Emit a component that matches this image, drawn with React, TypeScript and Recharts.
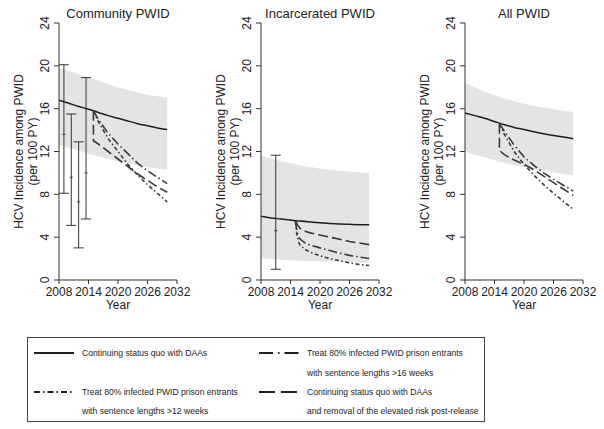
import React from "react";
import { ComposedChart, Line, Area, Scatter, ErrorBar, XAxis, YAxis } from "recharts";

const FONT = "'Liberation Sans', Arial, Helvetica, sans-serif";

const years = [2008, 2010, 2012, 2014, 2016, 2018, 2020, 2022, 2024, 2026, 2028, 2030];
const xTicks = [2008, 2014, 2020, 2026, 2032];
const yTicks = [0, 4, 8, 12, 16, 20, 24];
const panelTitles = ["Community PWID", "Incarcerated PWID", "All PWID"];

// status quo with DAAs (solid) and its uncertainty band
const communityQuo = [16.8, 16.5, 16.2, 15.95, 15.65, 15.35, 15.1, 14.85, 14.6, 14.4, 14.2, 14.05];
const communityHi = [19.8, 19.5, 19.2, 18.9, 18.6, 18.3, 18.0, 17.75, 17.5, 17.3, 17.15, 17.0];
const communityLo = [12.6, 12.35, 12.1, 11.8, 11.55, 11.3, 11.1, 10.9, 10.7, 10.55, 10.4, 10.3];

const prisonQuo = [5.95, 5.8, 5.7, 5.6, 5.5, 5.42, 5.35, 5.28, 5.23, 5.2, 5.17, 5.15];
const prisonHi = [11.6, 11.35, 11.1, 10.9, 10.7, 10.55, 10.4, 10.3, 10.2, 10.1, 10.05, 10.0];
const prisonLo = [2.0, 1.95, 1.9, 1.85, 1.8, 1.75, 1.72, 1.7, 1.68, 1.65, 1.62, 1.6];

const allQuo = [15.6, 15.35, 15.1, 14.8, 14.5, 14.25, 14.05, 13.85, 13.65, 13.5, 13.35, 13.2];
const allHi = [18.4, 18.0, 17.6, 17.25, 16.95, 16.7, 16.45, 16.25, 16.1, 15.95, 15.8, 15.7];
const allLo = [12.0, 11.7, 11.45, 11.2, 10.95, 10.75, 10.55, 10.35, 10.2, 10.05, 9.9, 9.8];

// scenarios from 2015: [year, incidence]
const community16wk: [number, number][] = [[2015, 15.8], [2016, 15.0], [2018, 13.7], [2020, 12.7], [2022, 11.8], [2024, 10.9], [2026, 10.2], [2028, 9.6], [2030, 9.0]];
const community12wk: [number, number][] = [[2015, 15.8], [2016, 14.8], [2018, 13.2], [2020, 12.0], [2022, 10.8], [2024, 9.8], [2026, 8.9], [2028, 8.1], [2030, 7.3]];
const communityNoRisk: [number, number][] = [[2015, 15.8], [2015, 13.0], [2016, 12.7], [2018, 12.0], [2020, 11.3], [2022, 10.6], [2024, 9.9], [2026, 9.3], [2028, 8.7], [2030, 8.2]];

const prison16wk: [number, number][] = [[2015, 5.5], [2015.3, 4.6], [2015.7, 4.0], [2016, 3.8], [2017, 3.45], [2018, 3.25], [2020, 3.0], [2022, 2.75], [2024, 2.5], [2026, 2.3], [2028, 2.15], [2030, 2.0]];
const prison12wk: [number, number][] = [[2015, 5.5], [2015.3, 4.2], [2015.7, 3.5], [2016, 3.2], [2017, 2.85], [2018, 2.6], [2020, 2.25], [2022, 2.0], [2024, 1.8], [2026, 1.6], [2028, 1.45], [2030, 1.35]];
const prisonNoRisk: [number, number][] = [[2015, 5.5], [2015.5, 5.1], [2016, 4.8], [2017, 4.55], [2018, 4.4], [2020, 4.2], [2022, 4.0], [2024, 3.8], [2026, 3.6], [2028, 3.45], [2030, 3.3]];

const all16wk: [number, number][] = [[2015, 14.6], [2016, 13.9], [2018, 12.6], [2020, 11.5], [2022, 10.7], [2024, 10.0], [2026, 9.4], [2028, 8.85], [2030, 8.3]];
const all12wk: [number, number][] = [[2015, 14.6], [2016, 13.6], [2018, 12.0], [2020, 10.8], [2022, 9.8], [2024, 8.9], [2026, 8.1], [2028, 7.35], [2030, 6.6]];
const allNoRisk: [number, number][] = [[2015, 14.6], [2015, 12.1], [2016, 11.7], [2018, 11.2], [2020, 10.8], [2022, 10.3], [2024, 9.7], [2026, 9.1], [2028, 8.5], [2030, 7.9]];

// observed incidence estimates with 95% CI
const communityObsYears = [2009, 2010.5, 2012, 2013.5];
const communityObsMid = [13.6, 9.6, 7.3, 10.0];
const communityObsLo = [8.1, 5.1, 3.0, 5.7];
const communityObsHi = [20.1, 15.5, 12.9, 18.9];

const prisonObsYears = [2011];
const prisonObsMid = [4.6];
const prisonObsLo = [1.0];
const prisonObsHi = [11.65];

const DASH_16WK = "9 3 1.5 3";
const DASH_12WK = "4 2.5 1.5 2.5";
const DASH_NORISK = "10 4";

const toPts = (pts: [number, number][]) => pts.map(([year, v]) => ({ year, v }));

const baseData = (quo: number[], lo: number[], hi: number[]) =>
  years.map((year, i) => ({ year, v: quo[i], band: [lo[i], hi[i]] }));

const obsData = (yrs: number[], mid: number[], lo: number[], hi: number[]) =>
  yrs.map((year, i) => ({ year, v: mid[i], err: [mid[i] - lo[i], hi[i] - mid[i]] }));

const panels = [
  {
    base: baseData(communityQuo, communityLo, communityHi),
    s16: toPts(community16wk),
    s12: toPts(community12wk),
    noRisk: toPts(communityNoRisk),
    obs: obsData(communityObsYears, communityObsMid, communityObsLo, communityObsHi),
  },
  {
    base: baseData(prisonQuo, prisonLo, prisonHi),
    s16: toPts(prison16wk),
    s12: toPts(prison12wk),
    noRisk: toPts(prisonNoRisk),
    obs: obsData(prisonObsYears, prisonObsMid, prisonObsLo, prisonObsHi),
  },
  {
    base: baseData(allQuo, allLo, allHi),
    s16: toPts(all16wk),
    s12: toPts(all12wk),
    noRisk: toPts(allNoRisk),
    obs: [],
  },
];

const RotatedTick = (props: any) => {
  const { x, y, payload } = props;
  return (
    <text x={x} y={y} transform={`rotate(-90 ${x} ${y})`} textAnchor="middle" fontSize={12} fill="#222" fontFamily={FONT}>
      {payload.value}
    </text>
  );
};

const MidTick = (props: any) => {
  const { cx, cy } = props;
  if (cx == null || cy == null) return <g />;
  return <line x1={cx - 1.5} x2={cx + 1.5} y1={cy} y2={cy} stroke="#333" strokeWidth={1} />;
};

const PANEL_W = 201;
const PANEL_H = 320;
const panelLefts = [0, 202, 406];

function Panel({ idx }: { idx: number }) {
  const p = panels[idx];
  return (
    <ComposedChart width={PANEL_W} height={PANEL_H} margin={{ top: 23, right: 24, left: 0, bottom: 0 }}>
      <XAxis
        type="number"
        dataKey="year"
        domain={[2008, 2032]}
        ticks={xTicks}
        interval={0}
        allowDataOverflow
        height={40}
        tickSize={4}
        tickMargin={3}
        stroke="#333"
        tick={{ fill: "#222", fontSize: 12, fontFamily: FONT }}
      />
      <YAxis
        type="number"
        domain={[0, 24]}
        ticks={yTicks}
        interval={0}
        allowDataOverflow
        width={59}
        tickSize={5}
        tickMargin={5}
        stroke="#333"
        tick={<RotatedTick />}
      />
      <Area
        data={p.base}
        dataKey="band"
        type="monotone"
        fill="#e4e4e4"
        fillOpacity={1}
        stroke="none"
        isAnimationActive={false}
      />
      {p.obs.length > 0 && (
        <Scatter data={p.obs} dataKey="v" shape={<MidTick />} isAnimationActive={false}>
          <ErrorBar dataKey="err" direction="y" width={5} stroke="#333" strokeWidth={1} />
        </Scatter>
      )}
      <Line data={p.base} dataKey="v" type="monotone" stroke="#1e1e1e" strokeWidth={1.5} dot={false} activeDot={false} isAnimationActive={false} />
      <Line data={p.s16} dataKey="v" type="linear" stroke="#3a3a3a" strokeWidth={1.6} strokeDasharray={DASH_16WK} dot={false} activeDot={false} isAnimationActive={false} />
      <Line data={p.s12} dataKey="v" type="linear" stroke="#3a3a3a" strokeWidth={1.6} strokeDasharray={DASH_12WK} dot={false} activeDot={false} isAnimationActive={false} />
      <Line data={p.noRisk} dataKey="v" type="linear" stroke="#3a3a3a" strokeWidth={1.6} strokeDasharray={DASH_NORISK} dot={false} activeDot={false} isAnimationActive={false} />
    </ComposedChart>
  );
}

const legendItems = [
  { label: ["Continuing status quo with DAAs"], dash: "", col: 0, row: 0 },
  { label: ["Treat 80% infected PWID prison entrants", "with sentence lengths >16 weeks"], dash: "14 5 1.5 5", col: 1, row: 0 },
  { label: ["Treat 80% infected PWID prison entrants", "with sentence lengths >12 weeks"], dash: "6 3 1.5 3", col: 0, row: 2 },
  { label: ["Continuing status quo with DAAs", "and removal of the elevated risk post-release"], dash: "16 6", col: 1, row: 2 },
];
const rowYs = [15, 34.5, 54, 73];

function LegendBox() {
  return (
    <div
      style={{
        position: "absolute",
        left: 27,
        top: 337,
        width: 456,
        height: 83,
        border: "1px solid #444",
        fontFamily: FONT,
        fontSize: 8.6,
        color: "#222",
      }}
    >
      {legendItems.map((it, i) => {
        const lineLeft = it.col === 0 ? 6 : 231;
        const textLeft = it.col === 0 ? 54 : 279;
        return (
          <React.Fragment key={i}>
            <svg
              width={40}
              height={4}
              style={{ position: "absolute", left: lineLeft, top: rowYs[it.row] - 2 }}
            >
              <line x1={0} x2={40} y1={2} y2={2} stroke="#222" strokeWidth={2} strokeDasharray={it.dash || undefined} />
            </svg>
            {it.label.map((t, j) => (
              <div
                key={j}
                style={{
                  position: "absolute",
                  left: textLeft,
                  top: rowYs[it.row + j] - 6,
                  height: 12,
                  lineHeight: "12px",
                  whiteSpace: "nowrap",
                }}
              >
                {t}
              </div>
            ))}
          </React.Fragment>
        );
      })}
    </div>
  );
}

export default function App() {
  return (
    <div style={{ position: "absolute", left: 0, top: 0, width: 604, height: 429, background: "#fff", overflow: "hidden" }}>
      {panelLefts.map((left, i) => (
        <div key={i} style={{ position: "absolute", left, top: 0 }}>
          <Panel idx={i} />
        </div>
      ))}
      <svg width={604} height={429} style={{ position: "absolute", left: 0, top: 0, pointerEvents: "none" }}>
        {panelLefts.map((left, i) => (
          <g key={i} fontFamily={FONT} fill="#222">
            <text x={left + 118} y={17.5} textAnchor="middle" fontSize={13}>
              {panelTitles[i]}
            </text>
            <text x={left + 23} y={151.5} transform={`rotate(-90 ${left + 23} 151.5)`} textAnchor="middle" fontSize={12}>
              HCV Incidence among PWID
            </text>
            <text x={left + 37} y={151.5} transform={`rotate(-90 ${left + 37} 151.5)`} textAnchor="middle" fontSize={12}>
              (per 100 PY)
            </text>
            <text x={left + 118} y={308.5} textAnchor="middle" fontSize={12}>
              Year
            </text>
          </g>
        ))}
      </svg>
      <LegendBox />
    </div>
  );
}
